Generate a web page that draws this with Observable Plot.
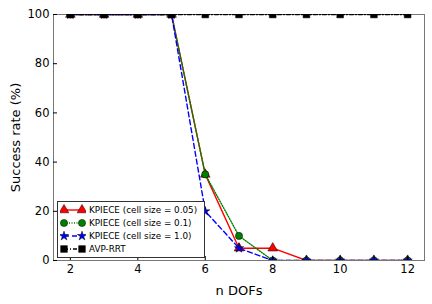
<!DOCTYPE html>
<html><head><meta charset="utf-8">
<script src="https://cdn.jsdelivr.net/npm/d3@7"></script>
<script src="https://cdn.jsdelivr.net/npm/@observablehq/plot@0.6"></script>
<style>
body{margin:0;background:#fff;font-family:"DejaVu Sans",sans-serif;}
#wrap{position:relative;width:432px;height:304px;}
#legend{position:absolute;left:57px;top:201px;width:148px;height:57px;border:1px solid #333;background:#fff;box-sizing:border-box;font-size:8.8px;}
.row{position:absolute;left:2px;height:13px;display:flex;align-items:center;}
.row span{margin-left:3px;white-space:nowrap;}
</style></head>
<body><div id="wrap"></div>
<script>
const dofs = [2,3,4,5,6,7,8,9,10,11,12];
const kp005 = [100,100,100,100,35,5,5,0,0,0,0];
const kp01  = [100,100,100,100,35,10,0,0,0,0,0];
const kp10  = [100,100,100,100,20,5,0,0,0,0,0];
const avp   = [100,100,100,100,100,100,100,100,100,100,100];
const seriesNames = ["KPIECE (cell size = 0.05)","KPIECE (cell size = 0.1)","KPIECE (cell size = 1.0)","AVP-RRT"];
const seriesVals = [kp005, kp01, kp10, avp];
const colors = ["#ff0000","#008000","#0000ff","#000000"];
const symbols = ["triangle","circle","star","square"];
const dashes = [null,"1,1.5","5,3","4,2,1,2"];
const radii = [3.6,3.6,2.9,3.8];
const xTicks = [2,4,6,8,10,12];
const yTicks = [0,20,40,60,80,100];

const marks = [Plot.frame({stroke:"#777"})];
seriesVals.forEach((vals,i)=>{
  const data = dofs.map((d,j)=>({x:d,y:vals[j]}));
  marks.push(Plot.line(data,{x:"x",y:"y",stroke:colors[i],strokeWidth:1.4,strokeDasharray:dashes[i],clip:"frame"}));
  marks.push(Plot.dot(data,{x:"x",y:"y",symbol:()=>symbols[i],fill:colors[i],stroke:"#000",strokeWidth:0.5,r:radii[i],clip:"frame"}));
});
marks.push(Plot.axisX({ticks:xTicks,tickSize:-4,tickPadding:8,fontSize:11.5,label:"n DOFs",labelAnchor:"center",labelArrow:"none",labelOffset:34}));
marks.push(Plot.axisY({ticks:yTicks,tickSize:-4,tickPadding:8,fontSize:11.5,label:"Success rate (%)",labelAnchor:"center",labelArrow:"none",labelOffset:43}));

const chart = Plot.plot({
  width:432,height:304,
  marginLeft:53,marginRight:8,marginTop:14,marginBottom:44,
  style:{fontFamily:"DejaVu Sans",fontSize:"11.5px",color:"#000",background:"#fff"},
  x:{domain:[1.5,12.5]},
  y:{domain:[0,100]},
  marks
});
chart.querySelectorAll("g[aria-label='x-axis label'] text, g[aria-label='y-axis label'] text").forEach(t=>t.setAttribute("font-size","13"));
document.getElementById("wrap").appendChild(chart);

const leg = document.createElement("div");
leg.id="legend";
seriesNames.forEach((name,i)=>{
  const row=document.createElement("div");
  row.className="row";
  row.style.top=(1+i*13.3)+"px";
  const svgNS="http://www.w3.org/2000/svg";
  const s=document.createElementNS(svgNS,"svg");
  s.setAttribute("width","26");s.setAttribute("height","12");
  const ln=document.createElementNS(svgNS,"line");
  ln.setAttribute("x1","4");ln.setAttribute("x2","22");ln.setAttribute("y1","6");ln.setAttribute("y2","6");
  ln.setAttribute("stroke",colors[i]);ln.setAttribute("stroke-width","1.4");
  if(dashes[i]) ln.setAttribute("stroke-dasharray",dashes[i]);
  s.appendChild(ln);
  const sym=d3.symbol(d3["symbol"+symbols[i][0].toUpperCase()+symbols[i].slice(1)], Math.PI*radii[i]*radii[i])();
  [4,22].forEach(cx=>{
    const p=document.createElementNS(svgNS,"path");
    p.setAttribute("d",sym);p.setAttribute("transform",`translate(${cx},6)`);
    p.setAttribute("fill",colors[i]);p.setAttribute("stroke","#000");p.setAttribute("stroke-width","0.5");
    s.appendChild(p);
  });
  row.appendChild(s);
  const sp=document.createElement("span");sp.textContent=name;row.appendChild(sp);
  leg.appendChild(row);
});
document.getElementById("wrap").appendChild(leg);
</script></body></html>
